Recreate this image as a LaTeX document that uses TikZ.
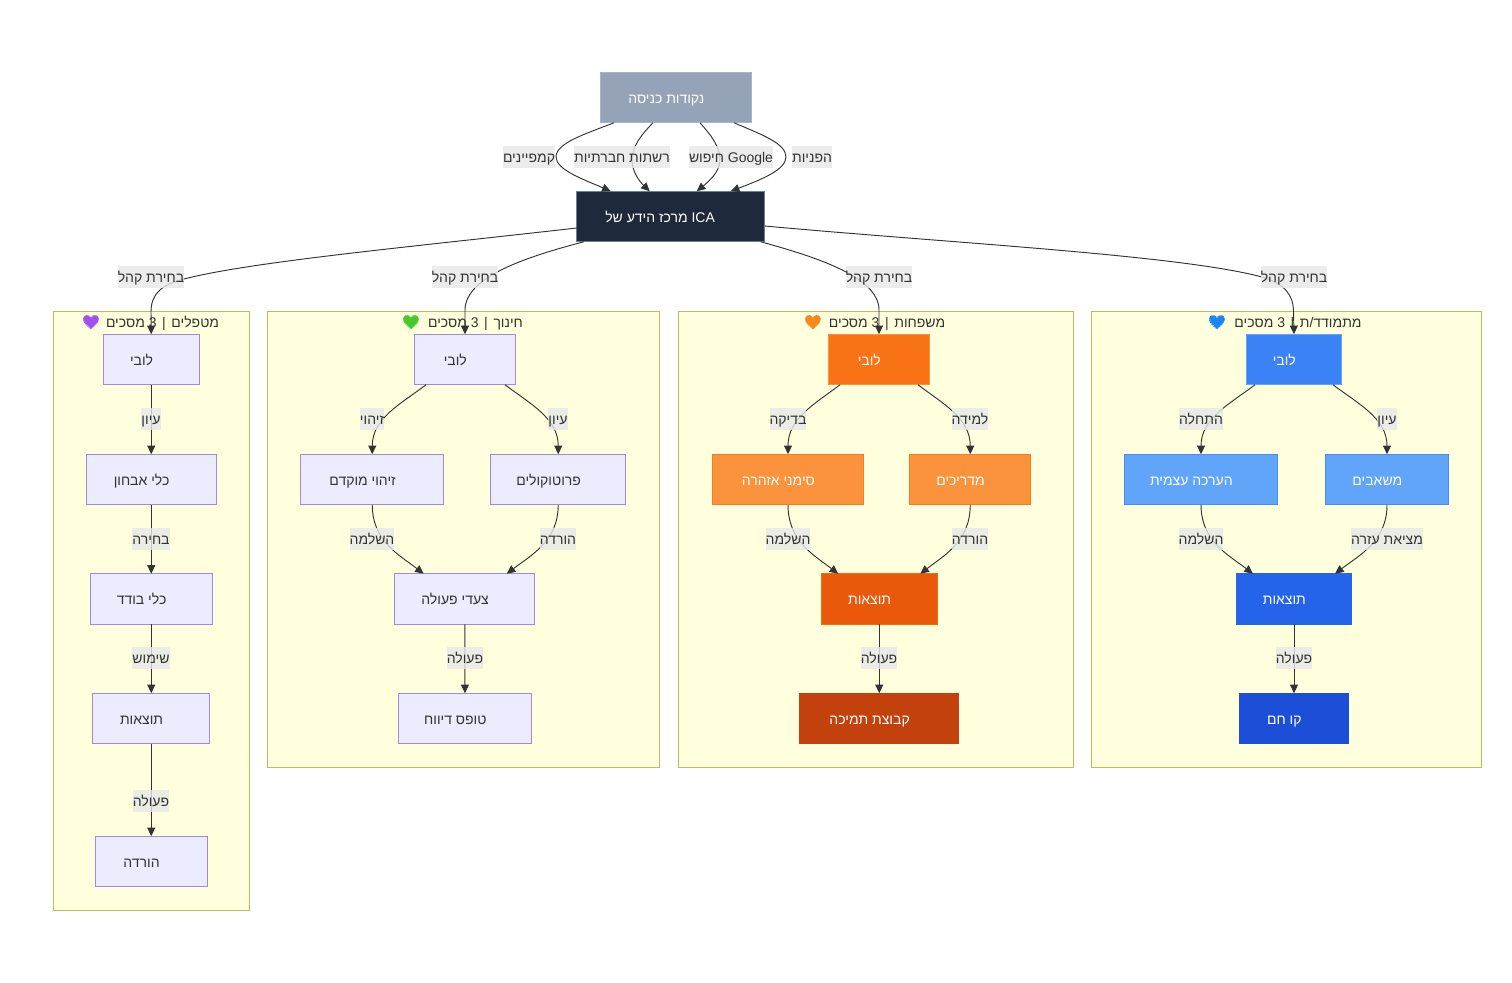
\documentclass[tikz,border=0pt]{standalone}
\usepackage{fontspec}
\usetikzlibrary{arrows.meta,calc}
\TeXXeTstate=1
\setmainfont[Script=Hebrew]{Liberation Sans}
\newfontfamily\emojifont{Noto Emoji}
\newcommand{\hb}[1]{\beginR #1\endR}
\newcommand{\nt}[1]{\hb{#1}\kern14.5pt}
\newcommand{\sep}{\kern1.3pt|\kern1.3pt}
\definecolor{ink}{HTML}{333333}
\definecolor{clusterfill}{HTML}{FFFFDE}
\definecolor{clusterline}{HTML}{BDBD5C}
\definecolor{defill}{HTML}{ECECFF}
\definecolor{deline}{HTML}{A587E2}
\definecolor{labelbg}{HTML}{E8E8E8}
\definecolor{slateA}{HTML}{94A3B8}
\definecolor{slateB}{HTML}{1E293B}
\definecolor{oA}{HTML}{F97316}\definecolor{oB}{HTML}{FB923C}\definecolor{oC}{HTML}{EA580C}\definecolor{oD}{HTML}{C2410C}
\definecolor{bA}{HTML}{3B82F6}\definecolor{bB}{HTML}{60A5FA}\definecolor{bC}{HTML}{2563EB}\definecolor{bD}{HTML}{1D4ED8}
\definecolor{hP}{HTML}{A24FEF}\definecolor{hG}{HTML}{45C92F}\definecolor{hO}{HTML}{F58A1E}\definecolor{hB}{HTML}{1A86F2}
\tikzset{
  x=0.75pt,y=-0.75pt,
  every node/.style={font=\fontsize{10.5pt}{13pt}\selectfont,text=ink,inner sep=0pt,outer sep=0pt},
  bx/.style={draw=deline,fill=defill,line width=0.7pt,minimum height=37.9pt,text height=10pt,text depth=1.5pt},
  cl/.style={bx,text=white},
  elab/.style={fill=labelbg,fill opacity=.8,text opacity=1,minimum height=16.5pt,text height=10pt,text depth=1.5pt},
  cluster/.style={draw=clusterline,fill=clusterfill,line width=0.7pt},
  ttl/.style={text height=10pt,text depth=1.5pt},
  edge/.style={draw=ink,line width=0.7pt,-{Triangle[length=6.5pt,width=6pt,fill=ink]}},
}
\newcommand{\heart}[3]{\fill[#3] (#1,#2+6.5) .. controls (#1-4,#2+2.5) and (#1-7.5,#2) .. (#1-7.5,#2-3) .. controls (#1-7.5,#2-7) and (#1-2,#2-7.5) .. (#1,#2-3.5) .. controls (#1+2,#2-7.5) and (#1+7.5,#2-7) .. (#1+7.5,#2-3) .. controls (#1+7.5,#2) and (#1+4,#2+2.5) .. (#1,#2+6.5) -- cycle;}
\begin{document}
\begin{tikzpicture}
\useasboundingbox (0,0) rectangle (1512,982);
\fill[white] (0,0) rectangle (1512,982);
% clusters
\path[cluster] (53.5,311) rectangle (249,910);
\path[cluster] (267.5,311) rectangle (659.5,767);
\path[cluster] (678,311) rectangle (1073,767);
\path[cluster] (1091.5,311) rectangle (1481.5,767);
% cluster titles
\heart{91}{322}{hP}\heart{411}{322}{hG}\heart{813}{322}{hO}\heart{1217}{322}{hB}
\node[ttl] (t1) at (162.5,322) {\hb{מטפלים \sep{} 3 מסכים}};
\node[ttl] (t2) at (475.5,322) {\hb{חינוך \sep{} 3 מסכים}};
\node[ttl] (t3) at (887,322) {\hb{משפחות \sep{} 3 מסכים}};
\node[ttl] (t4) at (1298,322) {\hb{מתמודד/ת \sep{} 3 מסכים}};
\node[ttl,text=hP] (e1) at (91,322) {\emojifont 💜};
\node[ttl,text=hG] (e2) at (411,322) {\emojifont 💚};
\node[ttl,text=hO] (e3) at (813,322) {\emojifont 🧡};
\node[ttl,text=hB] (e4) at (1217,322) {\emojifont 💙};
% top nodes
\node[cl,fill=slateA,draw=slateA!80!white,minimum width=113.7pt] (entry) at (676,97.5) {\nt{נקודות כניסה}};
\node[cl,fill=slateB,draw=slateA!70!slateB,minimum width=141pt] (ica) at (670.75,216.5) {\hb{מרכז הידע של} ICA\kern16pt};
% therapists
\node[bx,minimum width=72pt] (p0) at (151.25,359.5) {\nt{לובי}};
\node[bx,minimum width=97.5pt] (p1) at (151.25,479.5) {\nt{כלי אבחון}};
\node[bx,minimum width=91.7pt] (p2) at (151.25,599) {\nt{כלי בודד}};
\node[bx,minimum width=87.7pt] (p3) at (151.25,718.5) {\nt{תוצאות}};
\node[bx,minimum width=84pt] (p4) at (151.25,861.5) {\nt{הורדה}};
% education
\node[bx,minimum width=76.1pt] (c0) at (465,359.5) {\nt{לובי}};
\node[bx,minimum width=107.2pt] (c1) at (372.25,479.5) {\nt{זיהוי מוקדם}};
\node[bx,minimum width=101.2pt] (c2) at (558.25,479.5) {\nt{פרוטוקולים}};
\node[bx,minimum width=105pt] (c3) at (464.75,599) {\nt{צעדי פעולה}};
\node[bx,minimum width=100.1pt] (c4) at (465,718.5) {\nt{טופס דיווח}};
% family
\node[cl,fill=oA,draw=oB,minimum width=76.1pt] (f0) at (879,359.5) {\nt{לובי}};
\node[cl,fill=oB,draw=oA!70!oB,minimum width=112.7pt] (f1) at (788,479.5) {\nt{סימני אזהרה}};
\node[cl,fill=oB,draw=oA!70!oB,minimum width=90.7pt] (f2) at (970.25,479.5) {\nt{מדריכים}};
\node[cl,fill=oC,draw=oA!70!oC,minimum width=87pt] (f3) at (879.25,599) {\nt{תוצאות}};
\node[cl,fill=oD,draw=oD,minimum width=119.2pt] (f4) at (879.25,718.5) {\nt{קבוצת תמיכה}};
% strugglers
\node[cl,fill=bA,draw=bB,minimum width=71.6pt] (s0) at (1294,359.5) {\nt{לובי}};
\node[cl,fill=bB,draw=bA!70!bB,minimum width=115.1pt] (s1) at (1201,479.5) {\nt{הערכה עצמית}};
\node[cl,fill=bB,draw=bA!70!bB,minimum width=92.6pt] (s2) at (1387,479.5) {\nt{משאבים}};
\node[cl,fill=bC,draw=bC,minimum width=86.6pt] (s3) at (1294,599) {\nt{תוצאות}};
\node[cl,fill=bD,draw=bD,minimum width=82.1pt] (s4) at (1294,718.5) {\nt{קו חם}};
% edges: entry to ICA
\draw[edge] ($(entry.south)+(-62,0)$) .. controls (585,134) and (556,143) .. (556,157) .. controls (556,170) and (585,180) .. ($(ica.north)+(-60,0)$);
\draw[edge] ($(entry.south)+(-23,0)$) .. controls (642,134) and (632,146) .. (632,160) .. controls (632,172) and (640,182) .. ($(ica.north)+(-21,0)$);
\draw[edge] ($(entry.south)+(24,0)$) .. controls (710,134) and (720,146) .. (720,160) .. controls (720,172) and (708,182) .. ($(ica.north)+(26,0)$);
\draw[edge] ($(entry.south)+(58,0)$) .. controls (760,134) and (786,143) .. (786,157) .. controls (786,170) and (760,180) .. ($(ica.north)+(60,0)$);
% edges: ICA to lobbies
\draw[edge] ($(ica.west)+(0,11.5)$) .. controls (400,248) and (250,262) .. (184,279) .. controls (160,285) and (151,295) .. (151,312) -- (p0.north);
\draw[edge] ($(ica.south west)+(7,0)$) .. controls (530,256) and (465,276) .. (465,310) -- (c0.north);
\draw[edge] ($(ica.south east)+(-4,0)$) .. controls (812,256) and (879,276) .. (879,310) -- (f0.north);
\draw[edge] ($(ica.east)+(0,9.5)$) .. controls (950,243) and (1180,255) .. (1262,277) .. controls (1285,284) and (1293.5,295) .. (1293.5,312) -- (s0.north);
% therapists edges
\draw[edge] (p0) -- (p1); \draw[edge] (p1) -- (p2); \draw[edge] (p2) -- (p3); \draw[edge] (p3) -- (p4);
% education edges
\draw[edge] ($(c0.south)+(-39,0)$) .. controls +(-25,19) and +(0,-36) .. (c1.north);
\draw[edge] ($(c0.south)+(40,0)$) .. controls +(25,19) and +(0,-36) .. (c2.north);
\draw[edge] (c1.south) .. controls +(0,36) and +(-25,-19) .. ($(c3.north)+(-41,0)$);
\draw[edge] (c2.south) .. controls +(0,36) and +(25,-19) .. ($(c3.north)+(42,0)$);
\draw[edge] (c3) -- (c4);
% family edges
\draw[edge] ($(f0.south)+(-39,0)$) .. controls +(-25,19) and +(0,-36) .. (f1.north);
\draw[edge] ($(f0.south)+(39,0)$) .. controls +(25,19) and +(0,-36) .. (f2.north);
\draw[edge] (f1.south) .. controls +(0,36) and +(-25,-19) .. ($(f3.north)+(-41,0)$);
\draw[edge] (f2.south) .. controls +(0,36) and +(25,-19) .. ($(f3.north)+(41,0)$);
\draw[edge] (f3) -- (f4);
% struggler edges
\draw[edge] ($(s0.south)+(-39,0)$) .. controls +(-25,19) and +(0,-36) .. (s1.north);
\draw[edge] ($(s0.south)+(39,0)$) .. controls +(25,19) and +(0,-36) .. (s2.north);
\draw[edge] (s1.south) .. controls +(0,36) and +(-25,-19) .. ($(s3.north)+(-41,0)$);
\draw[edge] (s2.south) .. controls +(0,36) and +(25,-19) .. ($(s3.north)+(41,0)$);
\draw[edge] (s3) -- (s4);
% edge labels
\node[elab] (l1) at (529,157) {\hb{קמפיינים}};
\node[elab] (l2) at (622,157) {\hb{רשתות חברתיות}};
\node[elab] (l3) at (731,157) {\hb{חיפוש} Google};
\node[elab] (l4) at (812,157) {\hb{הפניות}};
\node[elab] (l5) at (151,277) {\hb{בחירת קהל}};
\node[elab] (l6) at (465,277) {\hb{בחירת קהל}};
\node[elab] (l7) at (879,277) {\hb{בחירת קהל}};
\node[elab] (l8) at (1294,277) {\hb{בחירת קהל}};
\node[elab] (a1) at (151,419) {\hb{עיון}};
\node[elab] (a2) at (151,539) {\hb{בחירה}};
\node[elab] (a3) at (151,658) {\hb{שימוש}};
\node[elab] (a4) at (151,801) {\hb{פעולה}};
\node[elab] (b1) at (372,419) {\hb{זיהוי}};
\node[elab] (b2) at (558,419) {\hb{עיון}};
\node[elab] (b3) at (372,539) {\hb{השלמה}};
\node[elab] (b4) at (558,539) {\hb{הורדה}};
\node[elab] (b5) at (465,658) {\hb{פעולה}};
\node[elab] (d1) at (788,419) {\hb{בדיקה}};
\node[elab] (d2) at (970,419) {\hb{למידה}};
\node[elab] (d3) at (788,539) {\hb{השלמה}};
\node[elab] (d4) at (970,539) {\hb{הורדה}};
\node[elab] (d5) at (879,658) {\hb{פעולה}};
\node[elab] (g1) at (1201,419) {\hb{התחלה}};
\node[elab] (g2) at (1387,419) {\hb{עיון}};
\node[elab] (g3) at (1201,539) {\hb{השלמה}};
\node[elab] (g4) at (1387,539) {\hb{מציאת עזרה}};
\node[elab] (g5) at (1294,658) {\hb{פעולה}};
\end{tikzpicture}
\end{document}
